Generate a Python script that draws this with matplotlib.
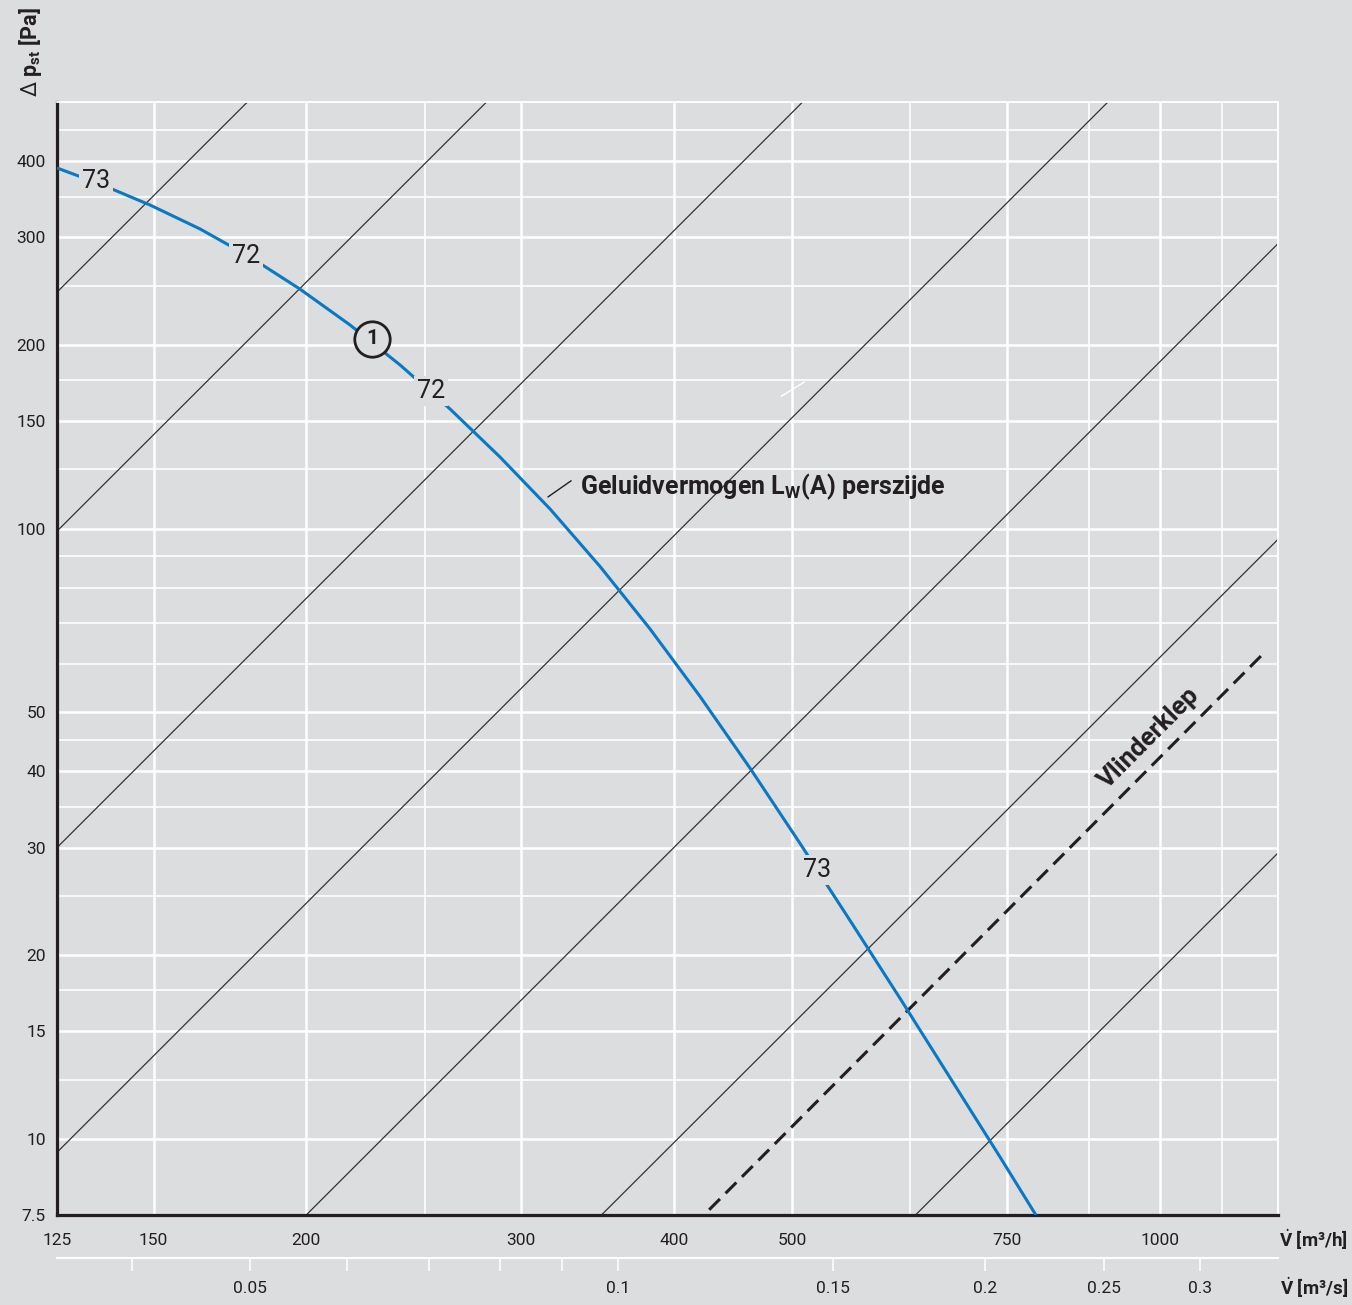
import numpy as np
import matplotlib

matplotlib.use("Agg")
import matplotlib.pyplot as plt
from matplotlib.ticker import FixedLocator, FixedFormatter, NullLocator, NullFormatter

# ---------------------------------------------------------------------------
# Data (airflow in m3/h, static pressure in Pa)
# ---------------------------------------------------------------------------

fan_flow = [125, 135.6, 149.0, 163.7, 179.9, 197.6, 217.2, 238.7, 262.3,
            288.2, 316.7, 348.0, 382.4, 420.2, 461.8, 507.4, 557.6, 612.7,
            673.3, 739.9, 791.8]
fan_dp = [389.8, 366.9, 338.9, 309.7, 278.6, 246.9, 215.6, 185.4, 157.0,
          131.0, 107.7, 86.7, 68.5, 53.1, 40.5, 30.5, 22.8, 17.0,
          12.6, 9.34, 7.5]

# system curves, each given by its two end points
sys_flow = [(125, 179), (125, 281), (125, 510), (125, 907),
            (200, 1250), (349, 1250), (631, 1250)]
sys_dp = [(244, 500), (99, 500), (30, 500), (9.5, 500),
          (7.5, 293), (7.5, 96), (7.5, 29.4)]

damper_flow = (427.6, 1220)
damper_dp = (7.65, 62.8)

# sound power labels along the fan curve
lw_labels = ["73", "72", "72", "73"]
lw_flow = [134.5, 178.5, 253, 524]
lw_dp = [371, 280, 168, 27.6]

curve_id_flow, curve_id_dp = 226.5, 204.5

x_major = [125, 150, 200, 300, 400, 500, 750, 1000]
x_minor = [250, 625, 875, 1125, 1250]
y_major = [7.5, 10, 15, 20, 30, 40, 50, 100, 150, 200, 300, 400]
y_minor = [12.5, 17.5, 25, 35, 45, 60, 70, 80, 90, 125, 175, 250, 350, 450, 500]

q_ticks = [0.04, 0.05, 0.06, 0.07, 0.08, 0.09, 0.1, 0.15, 0.2, 0.25, 0.3]
q_labels = ["", "0.05", "", "", "", "", "0.1", "0.15", "0.2", "0.25", "0.3"]

# ---------------------------------------------------------------------------
# Style
# ---------------------------------------------------------------------------

BG = "#dcdddf"
INK = "#231f20"
BLUE = "#0a78c2"

plt.rcParams["font.family"] = ["Roboto", "DejaVu Sans"]
plt.rcParams["mathtext.fontset"] = "custom"
plt.rcParams["mathtext.rm"] = "Roboto"
plt.rcParams["mathtext.it"] = "Roboto:italic"
plt.rcParams["mathtext.bf"] = "Roboto:bold"

W, H = 1352, 1305
fig = plt.figure(figsize=(W / 100, H / 100), dpi=100, facecolor=BG)
ax = fig.add_axes([57 / W, 90 / H, 1221 / W, 1113 / H], facecolor=BG)

ax.set_xscale("log")
ax.set_yscale("log")
ax.set_xlim(125, 1250)
ax.set_ylim(7.5, 500)

ax.xaxis.set_major_locator(FixedLocator(x_major))
ax.xaxis.set_major_formatter(FixedFormatter([f"{v:g}" for v in x_major]))
ax.xaxis.set_minor_locator(FixedLocator(x_minor))
ax.xaxis.set_minor_formatter(NullFormatter())
ax.yaxis.set_major_locator(FixedLocator(y_major))
ax.yaxis.set_major_formatter(FixedFormatter([f"{v:g}" for v in y_major]))
ax.yaxis.set_minor_locator(FixedLocator(y_minor))
ax.yaxis.set_minor_formatter(NullFormatter())

ax.set_axisbelow(True)
ax.grid(True, which="major", color="white", lw=1.8)
ax.grid(True, which="minor", color="white", lw=1.15)
ax.tick_params(which="both", length=0, labelsize=12.5, labelcolor=INK)
ax.tick_params(axis="x", pad=13)
ax.tick_params(axis="y", pad=8)

for side in ("left", "bottom"):
    ax.spines[side].set_color(INK)
    ax.spines[side].set_linewidth(2.3)
for side in ("top", "right"):
    ax.spines[side].set_color("white")
    ax.spines[side].set_linewidth(1.3)

# system curves and damper line
for fl, dp in zip(sys_flow, sys_dp):
    ax.plot(fl, dp, color="#333333", lw=0.9, zorder=2)
ax.plot(damper_flow, damper_dp, color=INK, lw=2.2, dashes=(5, 2.6), zorder=2)

# fan curve
ax.plot(fan_flow, fan_dp, color=BLUE, lw=2.2, zorder=3, solid_capstyle="butt",
        solid_joinstyle="round")

for lab, fl, dp in zip(lw_labels, lw_flow, lw_dp):
    ax.text(fl, dp, lab, fontsize=18, color=INK, ha="center", va="center",
            zorder=4, bbox=dict(boxstyle="square,pad=0.12", fc=BG, ec="none"))

ax.plot(curve_id_flow, curve_id_dp, marker="o", ms=25.5, mfc=BG, mec=INK,
        mew=2.0, zorder=5)
ax.text(curve_id_flow, curve_id_dp, "1", fontsize=15, weight="bold",
        color=INK, ha="center", va="center", zorder=6)

# sound power annotation
ax.plot([315.6, 329.5], [112.7, 119.7], color=INK, lw=1.0, zorder=4)
ax.text(335, 117, r"Geluidvermogen L$_\mathbf{W}$(A) perszijde",
        fontsize=18, weight="bold", color=INK, ha="left", va="center",
        zorder=4)

ax.plot([490, 511.6], [164.8, 173.8], color="white", lw=1.0, zorder=2)

ax.text(981, 45.4, "Vlinderklep", fontsize=18.5, weight="bold", color=INK,
        rotation=45, rotation_mode="anchor", ha="center", va="center",
        zorder=4)

# volume flow in m3/s underneath
sec = ax.secondary_xaxis(-43 / 1113, functions=(lambda v: v / 3600,
                                                 lambda q: q * 3600))
sec.xaxis.set_major_locator(FixedLocator(q_ticks))
sec.xaxis.set_major_formatter(FixedFormatter(q_labels))
sec.xaxis.set_minor_locator(NullLocator())
sec.spines["bottom"].set_color("white")
sec.spines["bottom"].set_linewidth(1.5)
sec.tick_params(axis="x", direction="out", length=9.5, width=1.1,
                color="white", labelsize=12.5, labelcolor=INK, pad=7)

fig.text(1348 / W, 1 - 1240 / H, r"$\dot{\mathbf{V}}$ [m³/h]", fontsize=13.5,
         weight="bold", color=INK, ha="right", va="center")
fig.text(1348 / W, 1 - 1288 / H, r"$\dot{\mathbf{V}}$ [m³/s]", fontsize=13.5,
         weight="bold", color=INK, ha="right", va="center")
fig.text(30 / W, 1 - 97 / H, r"$\Delta$ p$_\mathbf{st}$ [Pa]", fontsize=15.5,
         weight="bold", color=INK, rotation=90, ha="center", va="bottom")

fig.savefig("out.png", dpi=100, facecolor=BG)
